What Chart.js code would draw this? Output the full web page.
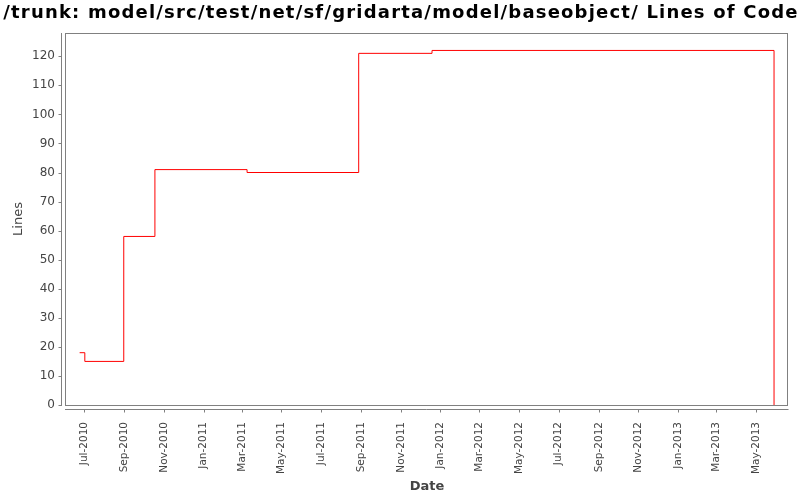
<!DOCTYPE html>
<html>
<head>
<meta charset="utf-8">
<script src="https://cdn.jsdelivr.net/npm/chart.js@4"></script>
<style>
  html, body { margin: 0; padding: 0; background: #fff; }
  #wrap { width: 800px; height: 500px; }
</style>
</head>
<body>
<div id="wrap"><canvas id="locChart" width="800" height="500"></canvas></div>
<script>
// commit dates and line counts (step line, value holds until next date)
const dates = ["2010-06-24", "2010-07-02", "2010-08-31", "2010-10-18", "2011-03-09", "2011-08-28", "2011-12-19", "2013-05-29"];
const lines = [18, 15, 58, 81, 80, 121, 122, 0];

// axis ticks
const xTickMonths = ["2010-07", "2010-09", "2010-11", "2011-01", "2011-03", "2011-05", "2011-07", "2011-09", "2011-11",
	"2012-01", "2012-03", "2012-05", "2012-07", "2012-09", "2012-11", "2013-01", "2013-03", "2013-05"];
const yTicks = [0, 10, 20, 30, 40, 50, 60, 70, 80, 90, 100, 110, 120];
const monthNames = ["Jan", "Feb", "Mar", "Apr", "May", "Jun", "Jul", "Aug", "Sep", "Oct", "Nov", "Dec"];

const chartTitle = "/trunk: model/src/test/net/sf/gridarta/model/baseobject/ Lines of Code";

const toTime = (s) => Date.parse(s.length === 7 ? s + "-01T00:00:00Z" : s + "T00:00:00Z");

const points = dates.map((d, i) => ({ x: toTime(d), y: lines[i] }));

const axisGray = "#808080";
const textGray = "#444444";

// title (wide, java-ish spacing), frame around the plot, detached axis lines with small ticks
const framePlugin = {
	id: "frame",
	afterDraw(chart) {
		const { ctx, chartArea: a, scales } = chart;
		const l = Math.round(a.left), r = Math.round(a.right), t = Math.round(a.top), b = Math.round(a.bottom);
		ctx.save();
		ctx.fillStyle = "#000";
		ctx.font = "bold 18px 'DejaVu Sans'";
		ctx.letterSpacing = "1.2px";
		ctx.textAlign = "left";
		ctx.textBaseline = "alphabetic";
		const w = ctx.measureText(chartTitle).width;
		ctx.fillText(chartTitle, 400 - w / 2 + 1, 17.5);
		ctx.restore();

		ctx.save();
		ctx.strokeStyle = axisGray;
		ctx.lineWidth = 1;
		ctx.strokeRect(l - 0.5, t + 0.5, r - l, b - t);
		ctx.beginPath();
		// y axis
		ctx.moveTo(l - 4.5, t);
		ctx.lineTo(l - 4.5, b + 1);
		scales.y.ticks.forEach((tk) => {
			const py = Math.round(scales.y.getPixelForValue(tk.value)) + 0.5;
			ctx.moveTo(l - 4.5, py);
			ctx.lineTo(l - 7.5, py);
		});
		// x axis
		ctx.moveTo(l - 1, b + 4.5);
		ctx.lineTo(r + 0.5, b + 4.5);
		scales.x.ticks.forEach((tk) => {
			const px = Math.round(scales.x.getPixelForValue(tk.value)) + 0.5;
			ctx.moveTo(px, b + 4.5);
			ctx.lineTo(px, b + 7.5);
		});
		ctx.stroke();
		ctx.restore();
	},
};

const ctx = document.getElementById("locChart").getContext("2d");

new Chart(ctx, {
	type: "line",
	data: {
		datasets: [
			{
				label: "Lines of Code",
				data: points,
				borderColor: "#ff0000",
				borderWidth: 1,
				pointRadius: 0,
				stepped: true,
				fill: false,
			},
		],
	},
	options: {
		responsive: false,
		animation: false,
		layout: { padding: { left: 0, right: 12, top: 33, bottom: 0 } },
		plugins: {
			legend: { display: false },
			tooltip: { enabled: false },
			title: { display: false },
		},
		scales: {
			x: {
				type: "linear",
				min: toTime("2010-06-03"),
				max: toTime("2013-06-19") + 12 * 3600 * 1000,
				grid: { display: false, drawTicks: false },
				border: { display: false },
				afterBuildTicks: (scale) => {
					scale.ticks = xTickMonths.map((m) => ({ value: toTime(m) }));
				},
				afterFit: (scale) => {
					scale.height = 95;
				},
				ticks: {
					autoSkip: false,
					maxRotation: 90,
					minRotation: 90,
					padding: 17,
					color: textGray,
					font: { family: "DejaVu Sans", size: 10.5 },
					callback: (v) => {
						const d = new Date(v);
						return monthNames[d.getUTCMonth()] + "-" + d.getUTCFullYear();
					},
				},
				title: {
					display: true,
					text: "Date",
					color: textGray,
					font: { family: "DejaVu Sans", size: 13, weight: "bold" },
					padding: { top: 0, bottom: 6 },
				},
			},
			y: {
				min: 0,
				max: 128,
				grid: { display: false, drawTicks: false },
				border: { display: false },
				afterBuildTicks: (scale) => {
					scale.ticks = yTicks.map((v) => ({ value: v }));
				},
				afterFit: (scale) => {
					scale.width = 66;
				},
				ticks: {
					padding: 11,
					color: textGray,
					font: { family: "DejaVu Sans", size: 12 },
				},
				title: {
					display: true,
					text: "Lines",
					color: textGray,
					font: { family: "DejaVu Sans", size: 13 },
					padding: { top: 11, bottom: 0 },
				},
			},
		},
	},
	plugins: [framePlugin],
});
</script>
</body>
</html>
